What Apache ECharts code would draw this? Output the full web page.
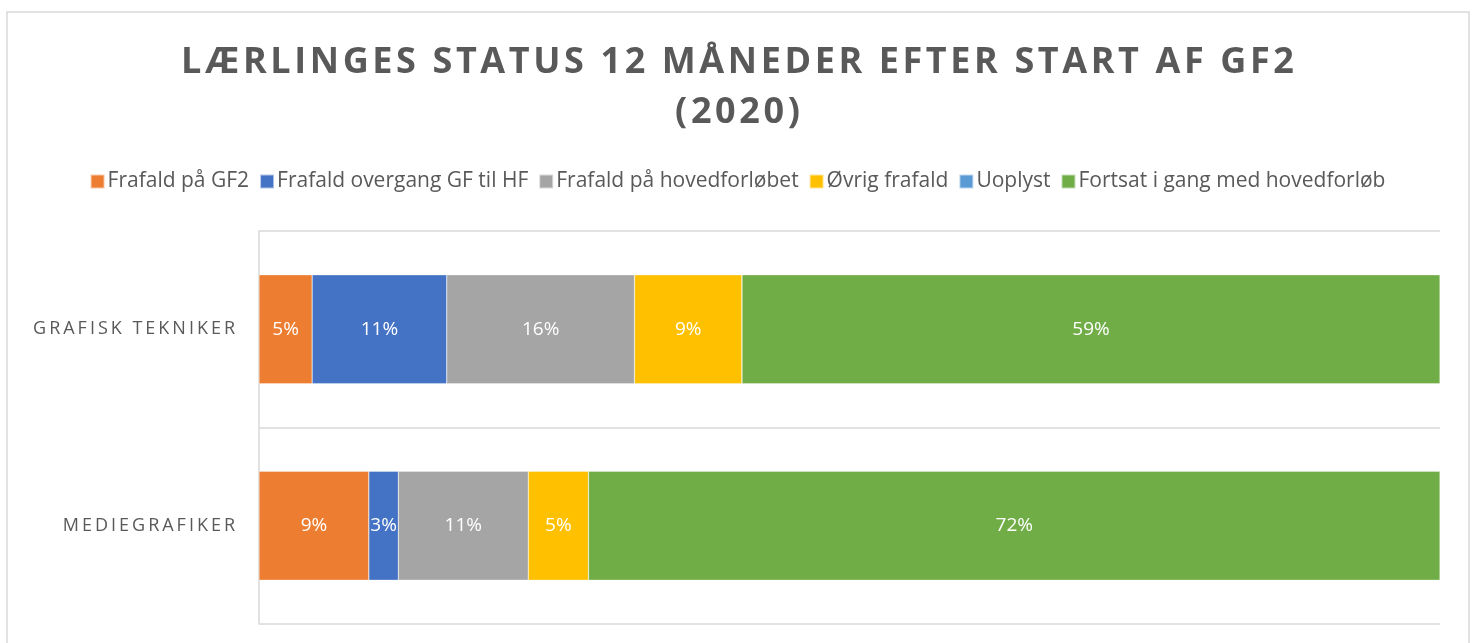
<!DOCTYPE html>
<html>
<head>
<meta charset="utf-8">
<script src="https://cdn.jsdelivr.net/npm/echarts@6/dist/echarts.min.js"></script>
<style>
  html, body { margin: 0; padding: 0; background: #fff; }
  #chart { width: 1475px; height: 643px; }
</style>
</head>
<body>
<div id="chart"></div>
<script>
const titleLines = ['LÆRLINGES STATUS 12 MÅNEDER EFTER START AF GF2', '(2020)'];
const categories = ['Grafisk tekniker', 'Mediegrafiker'];
const seriesNames = [
  'Frafald på GF2',
  'Frafald overgang GF til HF',
  'Frafald på hovedforløbet',
  'Øvrig frafald',
  'Uoplyst',
  'Fortsat i gang med hovedforløb'
];
// percent per category (Grafisk tekniker, Mediegrafiker)
const frafaldGF2 = [4.5, 9.3];
const frafaldOvergang = [11.4, 2.5];
const frafaldHoved = [15.9, 11.0];
const oevrigFrafald = [9.1, 5.1];
const uoplyst = [0, 0];
const fortsat = [59.1, 72.1];
const colors = ['#ED7D31', '#4472C4', '#A5A5A5', '#FFC000', '#5B9BD5', '#70AD47'];

const values = [frafaldGF2, frafaldOvergang, frafaldHoved, oevrigFrafald, uoplyst, fortsat];

// spread letters out, the way the original is typeset
const spaced = (s, gap) => s.split('').join(gap);

const chart = echarts.init(document.getElementById('chart'));

const option = {
  animation: false,
  color: colors,
  textStyle: { fontFamily: 'Open Sans' },
  title: {
    text: titleLines.map(l => spaced(l, '\u200A')).join('\n'),
    left: 'center',
    top: 33,
    textStyle: {
      fontFamily: 'Open Sans',
      fontSize: 36,
      fontWeight: 'bold',
      color: '#595959',
      lineHeight: 50
    }
  },
  legend: {
    top: 166,
    left: 'center',
    itemWidth: 14,
    itemHeight: 14,
    itemGap: 10,
    icon: 'rect',
    textStyle: { fontSize: 21, color: '#595959', padding: [0, 0, 0, -2] },
    data: seriesNames
  },
  graphic: [{
    type: 'rect',
    shape: { x: 7, y: 12, width: 1462, height: 660 },
    style: { fill: 'none', stroke: '#D9D9D9', lineWidth: 1.5 },
    silent: true,
    z: -1
  }],
  grid: { left: 259, right: 35, top: 231, bottom: 19 },
  xAxis: {
    type: 'value',
    min: 0,
    max: 100,
    axisLabel: { show: false },
    axisTick: { show: false },
    axisLine: { show: false },
    splitLine: { show: false }
  },
  yAxis: {
    type: 'category',
    inverse: true,
    data: categories,
    axisTick: { show: false },
    axisLine: { show: true, lineStyle: { color: '#D9D9D9', width: 1.5 } },
    splitLine: { show: true, lineStyle: { color: '#D9D9D9', width: 1.5 } },
    axisLabel: {
      margin: 24,
      fontSize: 18,
      color: '#595959',
      formatter: v => spaced(v.toUpperCase(), '\u2009')
    }
  },
  series: seriesNames.map((name, i) => ({
    name,
    type: 'bar',
    stack: 'total',
    barWidth: 109,
    data: values[i],
    itemStyle: { borderColor: 'rgba(255,255,255,0.6)', borderWidth: 0.5 },
    label: {
      show: true,
      position: 'inside',
      color: '#fff',
      fontSize: 19,
      formatter: p => (p.value > 0 ? Math.round(p.value) + '%' : '')
    }
  }))
};

chart.setOption(option);
</script>
</body>
</html>
